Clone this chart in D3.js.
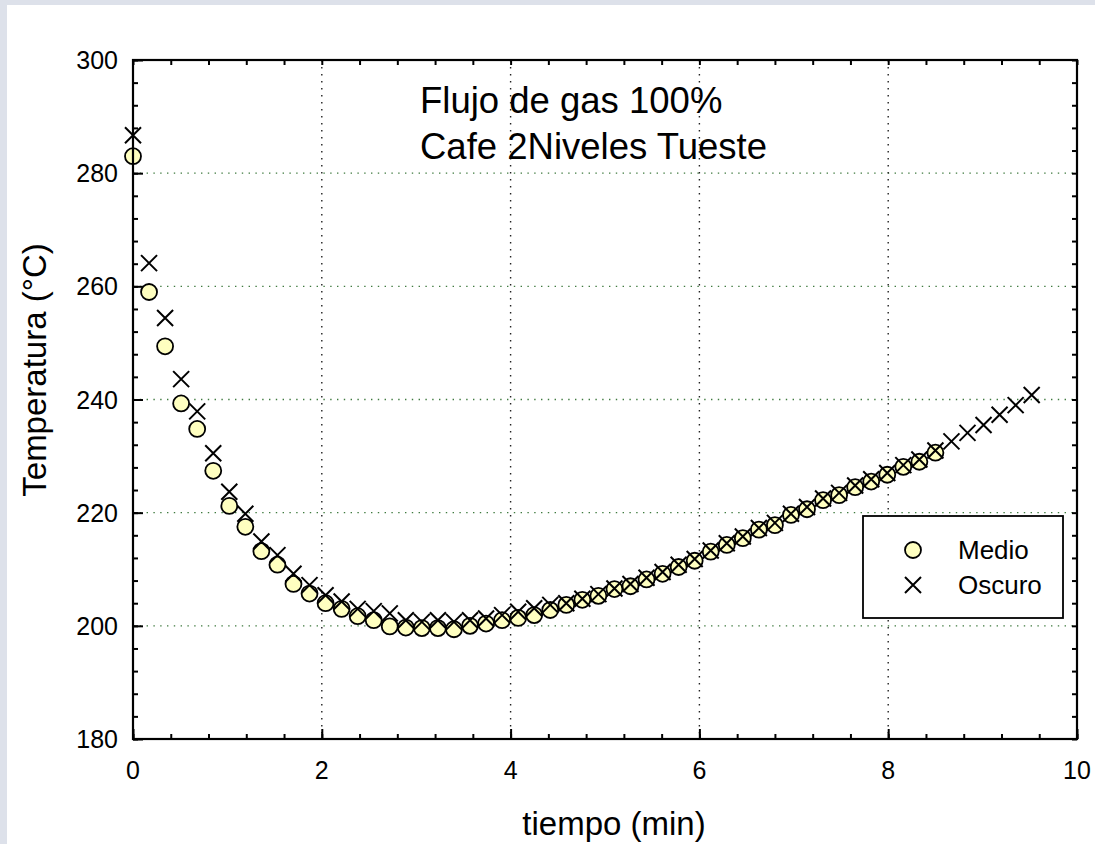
<!DOCTYPE html>
<html>
<head>
<meta charset="utf-8">
<script src="https://d3js.org/d3.v7.min.js"></script>
<style>
  body { margin: 0; background: #dde1ea; }
  svg { display: block; }
  text { font-family: "Liberation Sans", Arial, Helvetica, sans-serif; fill: #000; }
</style>
</head>
<body>
<div id="chart"></div>
<script>
// tiempo (min) para cada lectura
var tMedio = [0, 0.17, 0.34, 0.51, 0.68, 0.85, 1.02, 1.19, 1.36, 1.53,
  1.70, 1.87, 2.04, 2.21, 2.38, 2.55, 2.72, 2.89, 3.06, 3.23,
  3.40, 3.57, 3.74, 3.91, 4.08, 4.25, 4.42, 4.59, 4.76, 4.93,
  5.10, 5.27, 5.44, 5.61, 5.78, 5.95, 6.12, 6.29, 6.46, 6.63,
  6.80, 6.97, 7.14, 7.31, 7.48, 7.65, 7.82, 7.99, 8.16, 8.33, 8.50];
var medio = [283.0, 259.0, 249.4, 239.3, 234.8, 227.4, 221.2, 217.5, 213.2, 210.8,
  207.4, 205.7, 204.0, 203.0, 201.7, 201.0, 199.9, 199.7, 199.6, 199.6,
  199.4, 200.0, 200.4, 201.0, 201.4, 201.9, 202.8, 203.7, 204.6, 205.3,
  206.5, 207.0, 208.2, 209.2, 210.4, 211.5, 213.1, 214.3, 215.5, 217.0,
  217.8, 219.6, 220.6, 222.2, 223.1, 224.5, 225.5, 226.7, 228.1, 229.0, 230.6];

var tOscuro = [0, 0.17, 0.34, 0.51, 0.68, 0.85, 1.02, 1.19, 1.36, 1.53,
  1.70, 1.87, 2.04, 2.21, 2.38, 2.55, 2.72, 2.89, 3.06, 3.23,
  3.40, 3.57, 3.74, 3.91, 4.08, 4.25, 4.42, 4.59, 4.76, 4.93,
  5.10, 5.27, 5.44, 5.61, 5.78, 5.95, 6.12, 6.29, 6.46, 6.63,
  6.80, 6.97, 7.14, 7.31, 7.48, 7.65, 7.82, 7.99, 8.16, 8.33,
  8.50, 8.67, 8.84, 9.01, 9.18, 9.35, 9.52];
var oscuro = [286.7, 264.1, 254.4, 243.6, 237.9, 230.5, 223.7, 219.8, 214.9, 212.5,
  209.2, 207.2, 205.4, 204.3, 203.0, 202.6, 202.2, 201.0, 200.7, 201.0,
  200.7, 201.0, 201.3, 201.9, 202.5, 203.1, 203.7, 204.0, 204.8, 205.6,
  206.6, 207.4, 208.5, 209.5, 210.8, 211.8, 213.3, 214.6, 215.8, 217.3,
  218.2, 219.8, 221.0, 222.5, 223.5, 224.8, 225.9, 227.0, 228.4, 229.4,
  231.0, 232.6, 234.1, 235.5, 237.3, 239.0, 240.8];

var xTicks = [0, 2, 4, 6, 8, 10];
var yTicks = [180, 200, 220, 240, 260, 280, 300];
var titulo = ["Flujo de gas 100%", "Cafe 2Niveles Tueste"];
var series = ["Medio", "Oscuro"];

var W = 1095, H = 844;
var margin = {top: 60, right: 18, bottom: 105, left: 133};

var svg = d3.select("#chart").append("svg")
  .attr("width", W).attr("height", H);

// panel blanco
svg.append("rect").attr("x", 7).attr("y", 5)
  .attr("width", W - 7).attr("height", H - 5).attr("fill", "#fff");

var x = d3.scaleLinear().domain([0, 10]).range([margin.left, W - margin.right]);
var y = d3.scaleLinear().domain([180, 300]).range([H - margin.bottom, margin.top]);

var x0 = x(0), x1 = x(10), y0 = y(180), y1 = y(300);

// grid
var grid = svg.append("g");
grid.selectAll(".hgrid").data(yTicks.slice(1, -1)).enter().append("line")
  .attr("x1", x0).attr("x2", x1)
  .attr("y1", function(d){ return y(d); }).attr("y2", function(d){ return y(d); })
  .attr("stroke", "#3f7a3f").attr("stroke-width", 1.4)
  .attr("stroke-dasharray", "1.4,5.4");
grid.selectAll(".vgrid").data(xTicks.slice(1, -1)).enter().append("line")
  .attr("y1", y1).attr("y2", y0)
  .attr("x1", function(d){ return x(d); }).attr("x2", function(d){ return x(d); })
  .attr("stroke", "#222").attr("stroke-width", 1.4)
  .attr("stroke-dasharray", "1.4,5.6");

// ejes con ticks hacia dentro (arriba, abajo, izquierda, derecha)
var minorX = d3.range(0, 10.001, 0.4), minorY = d3.range(180, 300.001, 4);

function axisTicks(g, axis, size) {
  g.call(axis.tickSizeInner(size).tickSizeOuter(0).tickFormat(""))
    .call(function(s){ s.select(".domain").remove(); })
    .selectAll("line").attr("stroke", "#000").attr("stroke-width", 2);
}

var ax = svg.append("g");
axisTicks(ax.append("g").attr("transform", "translate(0," + y0 + ")"),
  d3.axisTop(x).tickValues(minorX), 5);
axisTicks(ax.append("g").attr("transform", "translate(0," + y0 + ")"),
  d3.axisTop(x).tickValues(xTicks), 10);
axisTicks(ax.append("g").attr("transform", "translate(0," + y1 + ")"),
  d3.axisBottom(x).tickValues(minorX), 5);
axisTicks(ax.append("g").attr("transform", "translate(" + x0 + ",0)"),
  d3.axisRight(y).tickValues(minorY), 5);
axisTicks(ax.append("g").attr("transform", "translate(" + x0 + ",0)"),
  d3.axisRight(y).tickValues(yTicks), 10);
axisTicks(ax.append("g").attr("transform", "translate(" + x1 + ",0)"),
  d3.axisLeft(y).tickValues(minorY), 5);

// etiquetas
svg.append("g").selectAll("text").data(xTicks).enter().append("text")
  .attr("x", function(d){ return x(d); }).attr("y", y0 + 40)
  .attr("text-anchor", "middle").style("font-size", "25px")
  .text(function(d){ return d; });
svg.append("g").selectAll("text").data(yTicks).enter().append("text")
  .attr("x", x0 - 15).attr("y", function(d){ return y(d) + 9; })
  .attr("text-anchor", "end").style("font-size", "25px")
  .text(function(d){ return d; });

svg.append("text").attr("x", 614).attr("y", 835)
  .attr("text-anchor", "middle").style("font-size", "33px")
  .text("tiempo (min)");
svg.append("text").attr("transform", "translate(46,370) rotate(-90)")
  .attr("text-anchor", "middle").style("font-size", "33px")
  .text("Temperatura (°C)");

svg.append("g").selectAll("text").data(titulo).enter().append("text")
  .attr("x", 420).attr("y", function(d, i){ return 113 + i * 46; })
  .style("font-size", "36.5px")
  .text(function(d){ return d; });

// marcadores
function cross(sel, s) {
  sel.append("path")
    .attr("d", "M" + (-s) + "," + (-s) + "L" + s + "," + s + "M" + (-s) + "," + s + "L" + s + "," + (-s))
    .attr("stroke", "#000").attr("stroke-width", 2).attr("fill", "none");
}

var dots = svg.append("g");
dots.selectAll("circle").data(medio).enter().append("circle")
  .attr("cx", function(d, i){ return x(tMedio[i]); })
  .attr("cy", function(d){ return y(d); })
  .attr("r", 8)
  .attr("fill", "#ffffc0").attr("stroke", "#000").attr("stroke-width", 1.8);

dots.selectAll(".x").data(oscuro).enter().append("g")
  .attr("transform", function(d, i){ return "translate(" + x(tOscuro[i]) + "," + y(d) + ")"; })
  .each(function(){ cross(d3.select(this), 8); });

// frame
svg.append("rect").attr("x", x0).attr("y", y1)
  .attr("width", x1 - x0).attr("height", y0 - y1)
  .attr("fill", "none").attr("stroke", "#000").attr("stroke-width", 2.2);

// leyenda
var leg = svg.append("g");
leg.append("rect").attr("x", 863).attr("y", 516).attr("width", 200).attr("height", 102)
  .attr("fill", "#fff").attr("stroke", "#000").attr("stroke-width", 1.8);
leg.append("circle").attr("cx", 913).attr("cy", 550).attr("r", 8)
  .attr("fill", "#ffffc0").attr("stroke", "#000").attr("stroke-width", 1.8);
cross(leg.append("g").attr("transform", "translate(913,585)"), 8);
leg.selectAll("text").data(series).enter().append("text")
  .attr("x", 958).attr("y", function(d, i){ return 559 + i * 35; })
  .style("font-size", "26px")
  .text(function(d){ return d; });
</script>
</body>
</html>
